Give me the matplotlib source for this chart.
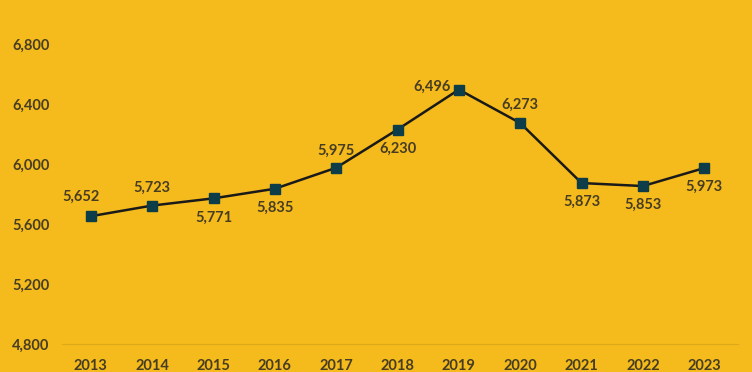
import matplotlib
matplotlib.use("Agg")
import matplotlib.pyplot as plt
from matplotlib.ticker import FuncFormatter

# dados do gráfico
anos = [2013, 2014, 2015, 2016, 2017, 2018, 2019, 2020, 2021, 2022, 2023]
valores = [5652, 5723, 5771, 5835, 5975, 6230, 6496, 6273, 5873, 5853, 5973]
y_ticks = [4800, 5200, 5600, 6000, 6400, 6800]

# posição dos rótulos (deslocamento em pixels)
deslocamentos = [(-10, 19), (0, 18), (0, -19), (0, -19), (0, 17), (0, -19),
                 (-27, 3), (0, 18), (0, -19), (0, -19), (0, -19)]

fundo = '#F5BA1B'
cor_texto = '#463D22'

plt.rcParams['font.family'] = ['Lato', 'DejaVu Sans']
plt.rcParams['font.weight'] = 'bold'

fig = plt.figure(figsize=(7.52, 3.72), dpi=100, facecolor=fundo)
ax = fig.add_axes([62 / 752, 1 - 344 / 372, 676 / 752, 300 / 372])
ax.set_facecolor(fundo)

ax.plot(anos, valores, color='#1A1A1A', linewidth=1.8, marker='s', markersize=6.5,
        markerfacecolor='#0E3D4A', markeredgecolor='#0E3D4A', zorder=3)

for ano, valor, (dx, dy) in zip(anos, valores, deslocamentos):
    ax.annotate(f'{valor:,}', (ano, valor), xytext=(dx, dy), textcoords='offset pixels',
                ha='center', va='center', fontsize=10.5, fontweight='bold', color=cor_texto)

ax.set_xlim(2012.53, 2023.55)
ax.set_ylim(4800, 6800)
ax.set_xticks(anos)
ax.set_yticks(y_ticks)
ax.yaxis.set_major_formatter(FuncFormatter(lambda v, p: f'{int(v):,}'))

for lado in ['top', 'right', 'left']:
    ax.spines[lado].set_visible(False)
ax.spines['bottom'].set_color('#DDA91C')
ax.spines['bottom'].set_linewidth(0.8)

ax.tick_params(axis='both', length=0, labelsize=10.5, labelcolor=cor_texto)
ax.tick_params(axis='y', pad=9)
ax.tick_params(axis='x', pad=11)
for t in ax.get_xticklabels() + ax.get_yticklabels():
    t.set_fontweight('bold')

fig.savefig('out.png', dpi=100, facecolor=fundo)
